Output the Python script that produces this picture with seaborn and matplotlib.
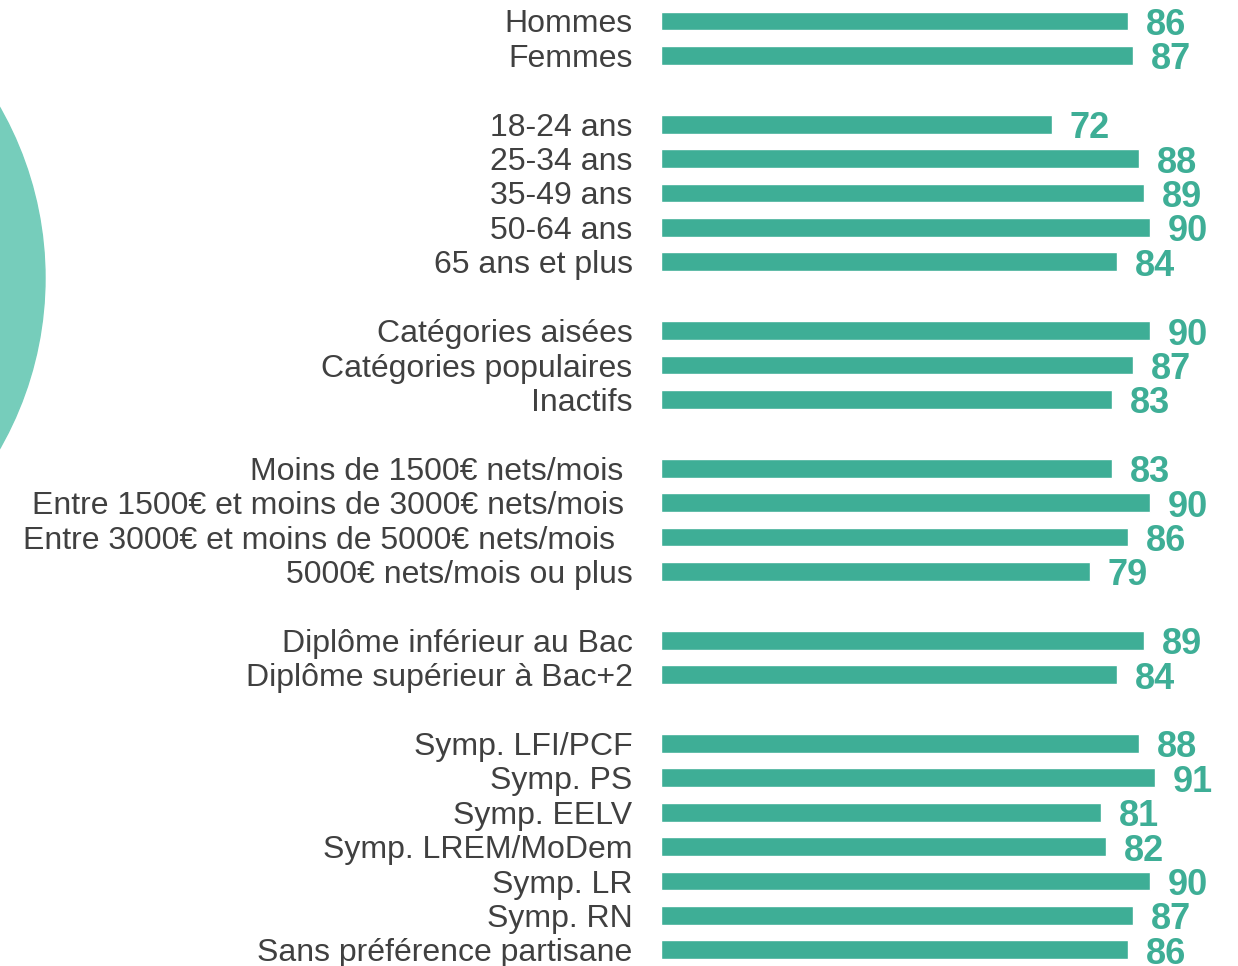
import matplotlib
matplotlib.use("Agg")
import matplotlib.pyplot as plt
from matplotlib.patches import Ellipse
import seaborn as sns
import pandas as pd

# groupes de population et scores
sexe = ["Hommes", "Femmes"]
sexe_val = [86, 87]
age = ["18-24 ans", "25-34 ans", "35-49 ans", "50-64 ans", "65 ans et plus"]
age_val = [72, 88, 89, 90, 84]
csp = ["Catégories aisées", "Catégories populaires", "Inactifs"]
csp_val = [90, 87, 83]
revenu = ["Moins de 1500€ nets/mois ", "Entre 1500€ et moins de 3000€ nets/mois ",
          "Entre 3000€ et moins de 5000€ nets/mois  ", "5000€ nets/mois ou plus"]
revenu_val = [83, 90, 86, 79]
diplome = ["Diplôme inférieur au Bac", "Diplôme supérieur à Bac+2"]
diplome_val = [89, 84]
partis = ["Symp. LFI/PCF", "Symp. PS", "Symp. EELV", "Symp. LREM/MoDem",
          "Symp. LR", "Symp. RN", "Sans préférence partisane"]
partis_val = [88, 91, 81, 82, 90, 87, 86]

groups = [(sexe, sexe_val), (age, age_val), (csp, csp_val),
          (revenu, revenu_val), (diplome, diplome_val), (partis, partis_val)]

rows = []
pos = 0
for labels, vals in groups:
    for lab, v in zip(labels, vals):
        rows.append({"label": lab, "value": v, "pos": pos})
        pos += 1
    pos += 1  # ligne vide entre groupes
df = pd.DataFrame(rows)

bar_color = "#3eae96"
circle_color = "#76cdbb"
text_color = "#404040"

sns.set_style("white")
plt.rcParams["font.family"] = ["Liberation Sans", "DejaVu Sans"]

fig = plt.figure(figsize=(12.38, 9.66), dpi=100)
ax = fig.add_axes([661 / 1238, 0, 577 / 1238, 1])

sns.barplot(data=df, x="value", y="pos", orient="y", native_scale=True,
            color=bar_color, saturation=1, width=0.55, ax=ax)

ax.set_xlim(0, 577 / 5.43)
ax.set_ylim(27.47, -0.61)
ax.set_yticks(df["pos"])
ax.set_yticklabels(df["label"], fontsize=23, color=text_color)
ax.tick_params(axis="y", length=0, pad=20.5)
ax.set_xticks([])
ax.set_xlabel("")
ax.set_ylabel("")
for s in ax.spines.values():
    s.set_visible(False)

for _, r in df.iterrows():
    ax.text(r["value"] + 3.3, r["pos"] + 0.13, str(r["value"]), va="center",
            ha="left", fontsize=26, fontweight="bold", color=bar_color)

circle = Ellipse((-299 / 1238, 1 - 278 / 966), 2 * 344 / 1238, 2 * 344 / 966,
                 transform=fig.transFigure, color=circle_color, zorder=0)
fig.patches.append(circle)

fig.savefig("out.png", dpi=100)
